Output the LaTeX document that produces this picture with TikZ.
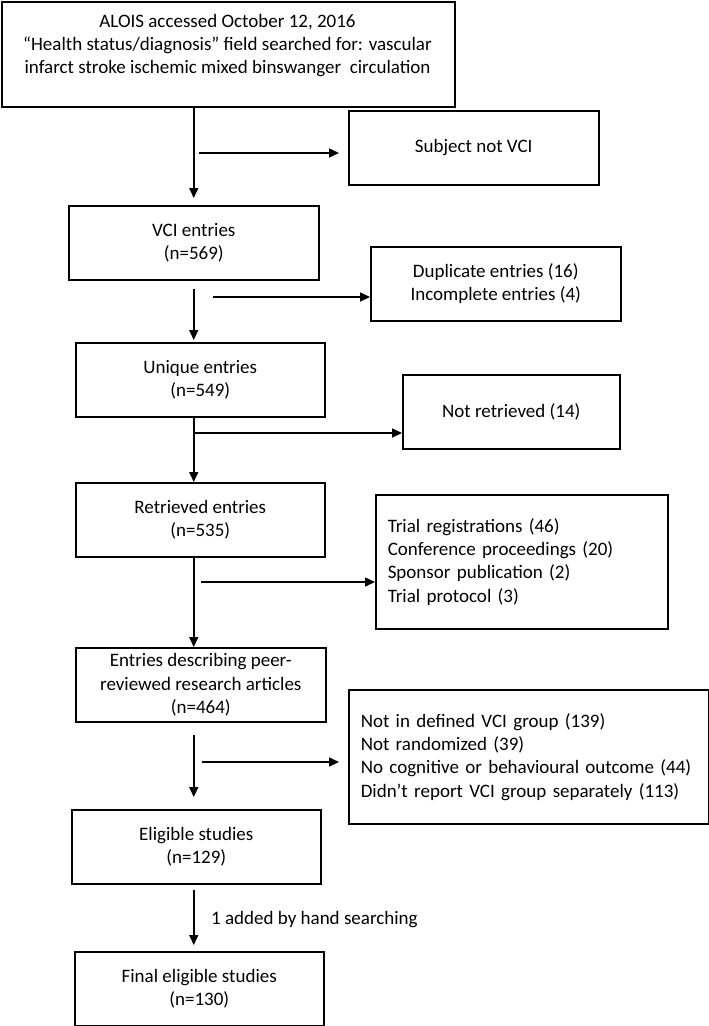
\documentclass[tikz,border=0pt]{standalone}
\usepackage{fontspec}
\setmainfont{Carlito}
\usetikzlibrary{arrows.meta}

\tikzset{
  txt/.style={font=\fontsize{19}{23.3}\selectfont},
  box/.style 2 args={draw, line width=1.5pt, inner sep=0pt, anchor=north west,
    align=center, txt, minimum width=#1pt, minimum height=#2pt},
  listbox/.style 2 args={draw, line width=1.5pt, inner xsep=12pt, inner ysep=0pt,
    anchor=north west, align=left, txt, text width=#1pt, minimum height=#2pt},
  arrow/.style={line width=1.5pt, -{Triangle[length=10pt,width=9pt]}},
}

\begin{document}
\begin{tikzpicture}[x=1pt,y=-1pt]
\useasboundingbox (0,0) rectangle (709,1026);
% main column
\node[box={453}{105}] (search) at (1,1) {};
\node[txt, inner sep=0pt, align=center] (searchtxt) at (227.5,45.5)
  {ALOIS accessed October 12, 2016\\“Health status/diagnosis” field searched for: vascular\\infarct stroke ischemic mixed binswanger \ circulation};
\node[box={250}{74}] (vci) at (68,205) {VCI entries\\(n=569)};
\node[box={249}{74}] (unique) at (75,342) {Unique entries\\(n=549)};
\node[box={249}{74}] (retrieved) at (75,482) {Retrieved entries\\(n=535)};
\node[box={250}{74}] (peer) at (75,647) {Entries describing peer-\\reviewed research articles\\(n=464)};
\node[box={249}{74}] (eligible) at (71,809) {Eligible studies\\(n=129)};
\node[box={249}{74}] (final) at (74,951) {Final eligible studies\\(n=130)};
% exclusions
\node[box={250}{74}] (notvci) at (348,110) {Subject not VCI};
\node[box={250}{74}] (dup) at (370,246) {Duplicate entries (16)\\Incomplete entries (4)};
\node[box={217}{74}] (notret) at (402,374) {Not retrieved (14)};
\node[listbox={268}{134}] (trial) at (375,494)
  {Trial registrations (46)\\Conference proceedings (20)\\Sponsor publication (2)\\Trial protocol (3)};
\node[listbox={336}{134}] (notin) at (348,689)
  {Not in defined VCI group (139)\\Not randomized (39)\\No cognitive or behavioural outcome (44)\\Didn’t report VCI group separately (113)};
% arrows
\draw[arrow, shorten >=7pt] (vci.north |- search.south) -- (vci.north);
\coordinate (b1) at (199,153);
\draw[arrow, shorten >=9pt] (b1) -- (notvci.west |- b1);
\draw[arrow, shorten <=8pt, shorten >=2pt] (vci.south) -- (vci.south |- unique.north);
\coordinate (b2) at (213,297);
\draw[arrow] (b2) -- (dup.west |- b2);
\draw[arrow] (vci.south |- unique.south) -- (vci.south |- retrieved.north);
\coordinate (b3) at (193,433);
\draw[arrow] (b3) -- (notret.west |- b3);
\draw[arrow] (vci.south |- retrieved.south) -- (vci.south |- peer.north);
\coordinate (b4) at (201,582);
\draw[arrow] (b4) -- (trial.west |- b4);
\draw[arrow, shorten <=12pt, shorten >=12pt] (vci.south |- peer.south) -- (vci.south |- eligible.north);
\coordinate (b5) at (202,762);
\draw[arrow, shorten >=9pt] (b5) -- (notin.west |- b5);
\draw[arrow, shorten <=5pt, shorten >=6pt] (vci.south |- eligible.south) -- (vci.south |- final.north);
\node[txt, anchor=west, inner sep=0pt] (hand) at (211,920) {1 added by hand searching};
\end{tikzpicture}
\end{document}
